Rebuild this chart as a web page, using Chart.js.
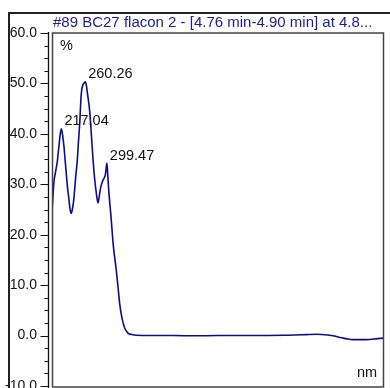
<!DOCTYPE html>
<html>
<head>
<meta charset="utf-8">
<script src="https://cdn.jsdelivr.net/npm/chart.js@4"></script>
<style>
  html, body { margin: 0; padding: 0; background: #fff; }
  canvas { display: block; }
</style>
</head>
<body>
<canvas id="myChart" width="390" height="388"></canvas>
<script>
// spectrum (nm, %)
const wavelengths = [
  200, 203.6, 206.5, 209.6, 212.5, 215, 217.04, 219.5, 221.7, 224, 226, 228,
  230.4, 232.5, 234.6, 236.5, 239.5, 242.6, 245.8, 248, 250.2, 253.1, 256.2,
  258.5, 260.26, 262, 264.3, 268.3, 271.6, 274.3, 277.4, 280.6, 283.3, 285.5,
  288.1, 292.3, 296.5, 298, 299.47, 301, 302.7, 305, 307.4, 311, 316.5, 319.6,
  322.6, 326.8, 331.7, 337.7, 345, 352.7, 380, 420, 460, 500, 540, 580, 620,
  650, 680, 700, 712, 722, 733, 745, 770, 790, 800
];
const absorbance = [
  24.5, 30.5, 32.5, 34.5, 37.5, 40, 41, 39.5, 37.5, 34.5, 32, 29.5,
  27.3, 25.2, 24.2, 24.8, 27, 31, 34.7, 38.5, 42, 48, 49.8,
  50.1, 50.3, 49.8, 48, 44.5, 39.5, 35, 31, 28, 26.3, 27.5,
  29.3, 30.8, 31.8, 33, 34.2, 32, 29, 26, 23, 18, 13, 9.7,
  6.4, 3.5, 1.5, 0.5, 0.2, 0.05, 0, 0, -0.05, 0, 0, 0.02, 0.05,
  0.15, 0.25, 0.1, -0.1, -0.4, -0.6, -0.8, -0.8, -0.6, -0.5
];

const peakNm = [217.04, 260.26, 299.47];
const peakVal = [41, 50.3, 34.2];
const peakLabels = ["217.04", "260.26", "299.47"];

const titleText = "#89 BC27 flacon 2 - [4.76 min-4.90 min] at 4.8...";
const yUnit = "%";
const xUnit = "nm";

const FAMILY = "'Liberation Sans', Arial, sans-serif";

// frame, y axis with minor ticks, box, title and peak labels
const framePlugin = {
  id: "frame",
  afterDraw(chart) {
    const { ctx, chartArea: a, scales } = chart;
    const ys = scales.y;
    ctx.save();

    // outer frame
    ctx.strokeStyle = "#222";
    ctx.lineWidth = 2;
    ctx.beginPath();
    ctx.moveTo(9, 388);
    ctx.lineTo(9, 13);
    ctx.lineTo(390, 13);
    ctx.stroke();

    // y axis line
    const ax = a.left - 3.5;
    ctx.strokeStyle = "#111";
    ctx.lineWidth = 1.3;
    ctx.beginPath();
    ctx.moveTo(ax, a.top - 1);
    ctx.lineTo(ax, 388);
    ctx.stroke();

    // ticks
    ctx.lineWidth = 1;
    ctx.beginPath();
    for (let v = -10; v <= 60; v += 2.5) {
      const y = Math.round(ys.getPixelForValue(v)) + 0.5;
      const major = v % 10 === 0;
      ctx.moveTo(ax - (major ? 8 : 4), y);
      ctx.lineTo(ax, y);
    }
    ctx.stroke();

    // plot box
    ctx.strokeStyle = "#444";
    ctx.lineWidth = 1.5;
    ctx.strokeRect(a.left + 0.5, a.top, a.right - a.left, a.bottom - a.top + 1);

    // texts
    ctx.textBaseline = "alphabetic";
    ctx.font = "15px " + FAMILY;
    ctx.fillStyle = "#1c1c96";
    ctx.fillText(titleText, 53, 27);

    ctx.font = "14.5px " + FAMILY;
    ctx.fillStyle = "#111";
    ctx.fillText(yUnit, 60, 50);
    ctx.fillText(xUnit, 357, 377);

    const xs = scales.x;
    peakNm.forEach((nm, i) => {
      const px = xs.getPixelForValue(nm);
      const py = ys.getPixelForValue(peakVal[i]);
      ctx.fillText(peakLabels[i], px + 3, py - 3.5);
    });

    ctx.restore();
  },
};

const data = {
  type: "line",
  data: {
    datasets: [
      {
        data: wavelengths.map((x, i) => ({ x, y: absorbance[i] })),
        borderColor: "#0c0c8a",
        borderWidth: 1.6,
        fill: false,
        pointRadius: 0,
        cubicInterpolationMode: "monotone",
      },
    ],
  },
  options: {
    responsive: false,
    animation: false,
    devicePixelRatio: 1,
    layout: { autoPadding: false, padding: { left: 0, top: 33, right: 7, bottom: 2 } },
    plugins: { legend: { display: false }, tooltip: { enabled: false } },
    scales: {
      x: { type: "linear", min: 200, max: 800, display: false },
      y: {
        min: -10,
        max: 60,
        afterFit: (s) => {
          s.width = 52;
          s.paddingTop = 0;
          s.paddingBottom = 0;
        },
        grid: { display: false, drawTicks: false, tickLength: 0 },
        border: { display: false },
        ticks: {
          stepSize: 10,
          padding: 15,
          color: "#111",
          font: { family: FAMILY, size: 14 },
          callback: (v) => v.toFixed(1),
        },
      },
    },
  },
  plugins: [framePlugin],
};

const ctx = document.getElementById("myChart").getContext("2d");
const aChart = new Chart(ctx, data);
</script>
</body>
</html>
